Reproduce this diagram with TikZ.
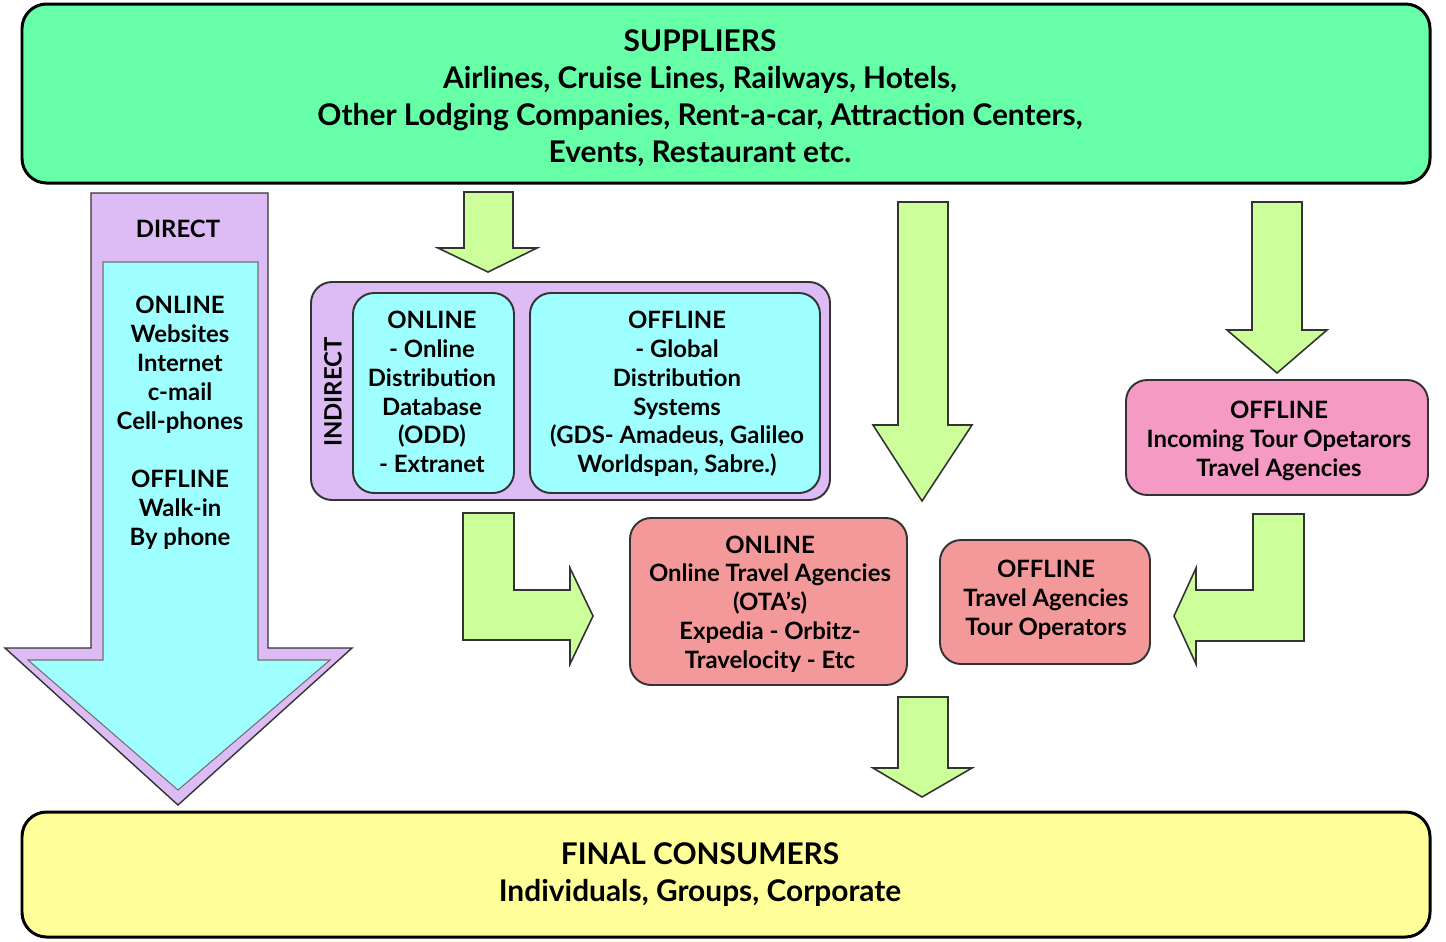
\documentclass[tikz,border=0pt]{standalone}
\usepackage{fontspec}
\setmainfont{Lato}
\usetikzlibrary{fit}
\definecolor{supgreen}{HTML}{66FFA8}
\definecolor{consyellow}{HTML}{FFFF99}
\definecolor{lav}{HTML}{DDBBF5}
\definecolor{cyanbox}{HTML}{9FFFFF}
\definecolor{salmon}{HTML}{F4999A}
\definecolor{pinkbox}{HTML}{F49AC4}
\definecolor{lime}{HTML}{CCFF99}
\definecolor{edge}{HTML}{333333}
\tikzset{
  bigbox/.style={draw=black, line width=1.7pt, rounded corners=14pt, inner sep=0pt},
  box/.style={draw=edge, line width=1.1pt, rounded corners=12pt, inner sep=0pt},
  bigtxt/.style={align=center, font=\fontsize{17}{21}\selectfont\bfseries, inner sep=0pt},
  txt/.style={align=center, font=\fontsize{13.6}{16.4}\selectfont\bfseries, inner sep=0pt},
  greenarrow/.style={fill=lime, draw=edge, line width=0.9pt, line join=miter},
}
\begin{document}
\begin{tikzpicture}[x=0.02cm, y=-0.02cm]
\useasboundingbox (0,0) rectangle (1446,941);
% suppliers
\node[bigbox, fill=supgreen, fit={(22,4) (1430,183)}] (sup) {};
\node[bigtxt] (suptxt) at (700,98) {SUPPLIERS\\Airlines, Cruise Lines, Railways, Hotels,\\Other Lodging Companies, Rent-a-car, Attraction Centers,\\Events, Restaurant etc.};
% consumers
\node[bigbox, fill=consyellow, fit={(22,812) (1430,937)}] (cons) {};
\node[bigtxt] (constxt) at (700,875) {FINAL CONSUMERS\\Individuals, Groups, Corporate};
% direct arrow
\path[fill=lav, draw=edge, line width=0.8pt] (91,193) -- (268,193) -- (268,648) -- (352,648) -- (178,805) -- (5,648) -- (91,648) -- cycle;
\path[fill=cyanbox, draw=edge!70, line width=0.6pt] (103,262) -- (258,262) -- (258,660) -- (330,660) -- (178,790) -- (28,660) -- (103,660) -- cycle;
\node[txt] (direct) at (178,229) {DIRECT};
\node[txt] (directtxt) at (180,423) {ONLINE\\Websites\\Internet\\c-mail\\Cell-phones\\[17pt]OFFLINE\\Walk-in\\By phone};
% indirect
\node[box, fill=lav, fit={(311,282) (830,500)}] (ind) {};
\node[txt, rotate=90] (indlbl) at (333,392) {INDIRECT};
\node[box, fill=cyanbox, fit={(353,293) (514,493)}] (indon) {};
\node[txt] (indontxt) at (432,392) {ONLINE\\- Online\\Distribution\\Database\\(ODD)\\- Extranet};
\node[box, fill=cyanbox, fit={(530,293) (820,493)}] (indoff) {};
\node[txt] (indofftxt) at (677,394) {OFFLINE\\- Global\\Distribution\\Systems\\(GDS- Amadeus, Galileo\\Worldspan, Sabre.)};
% right offline
\node[box, fill=pinkbox, fit={(1126,380) (1428,495)}] (inc) {};
\node[txt] (inctxt) at (1279,441) {OFFLINE\\Incoming Tour Opetarors\\Travel Agencies};
% OTA
\node[box, fill=salmon, fit={(630,518) (907,685)}] (ota) {};
\node[txt] (otatxt) at (770,604) {ONLINE\\Online Travel Agencies\\(OTA's)\\Expedia - Orbitz-\\Travelocity - Etc};
% offline TA
\node[box, fill=salmon, fit={(940,540) (1150,664)}] (ta) {};
\node[txt] (tatxt) at (1046,600) {OFFLINE\\Travel Agencies\\Tour Operators};
% green arrows
\path[greenarrow] (464,192) -- (513,192) -- (513,248) -- (537,248) -- (488,272) -- (438,248) -- (464,248) -- cycle;
\path[greenarrow] (898,202) -- (948,202) -- (948,425) -- (972,425) -- (922,501) -- (873,425) -- (898,425) -- cycle;
\path[greenarrow] (1252,202) -- (1302,202) -- (1302,330) -- (1327,330) -- (1277,373) -- (1227,330) -- (1252,330) -- cycle;
\path[greenarrow] (898,697) -- (948,697) -- (948,768) -- (972,768) -- (922,797) -- (873,768) -- (898,768) -- cycle;
\path[greenarrow] (463,513) -- (514,513) -- (514,590) -- (570,590) -- (570,568) -- (593,616) -- (570,664) -- (570,640) -- (463,640) -- cycle;
\path[greenarrow] (1304,514) -- (1253,514) -- (1253,590) -- (1196,590) -- (1196,568) -- (1174,616) -- (1196,664) -- (1196,641) -- (1304,641) -- cycle;
\end{tikzpicture}
\end{document}
